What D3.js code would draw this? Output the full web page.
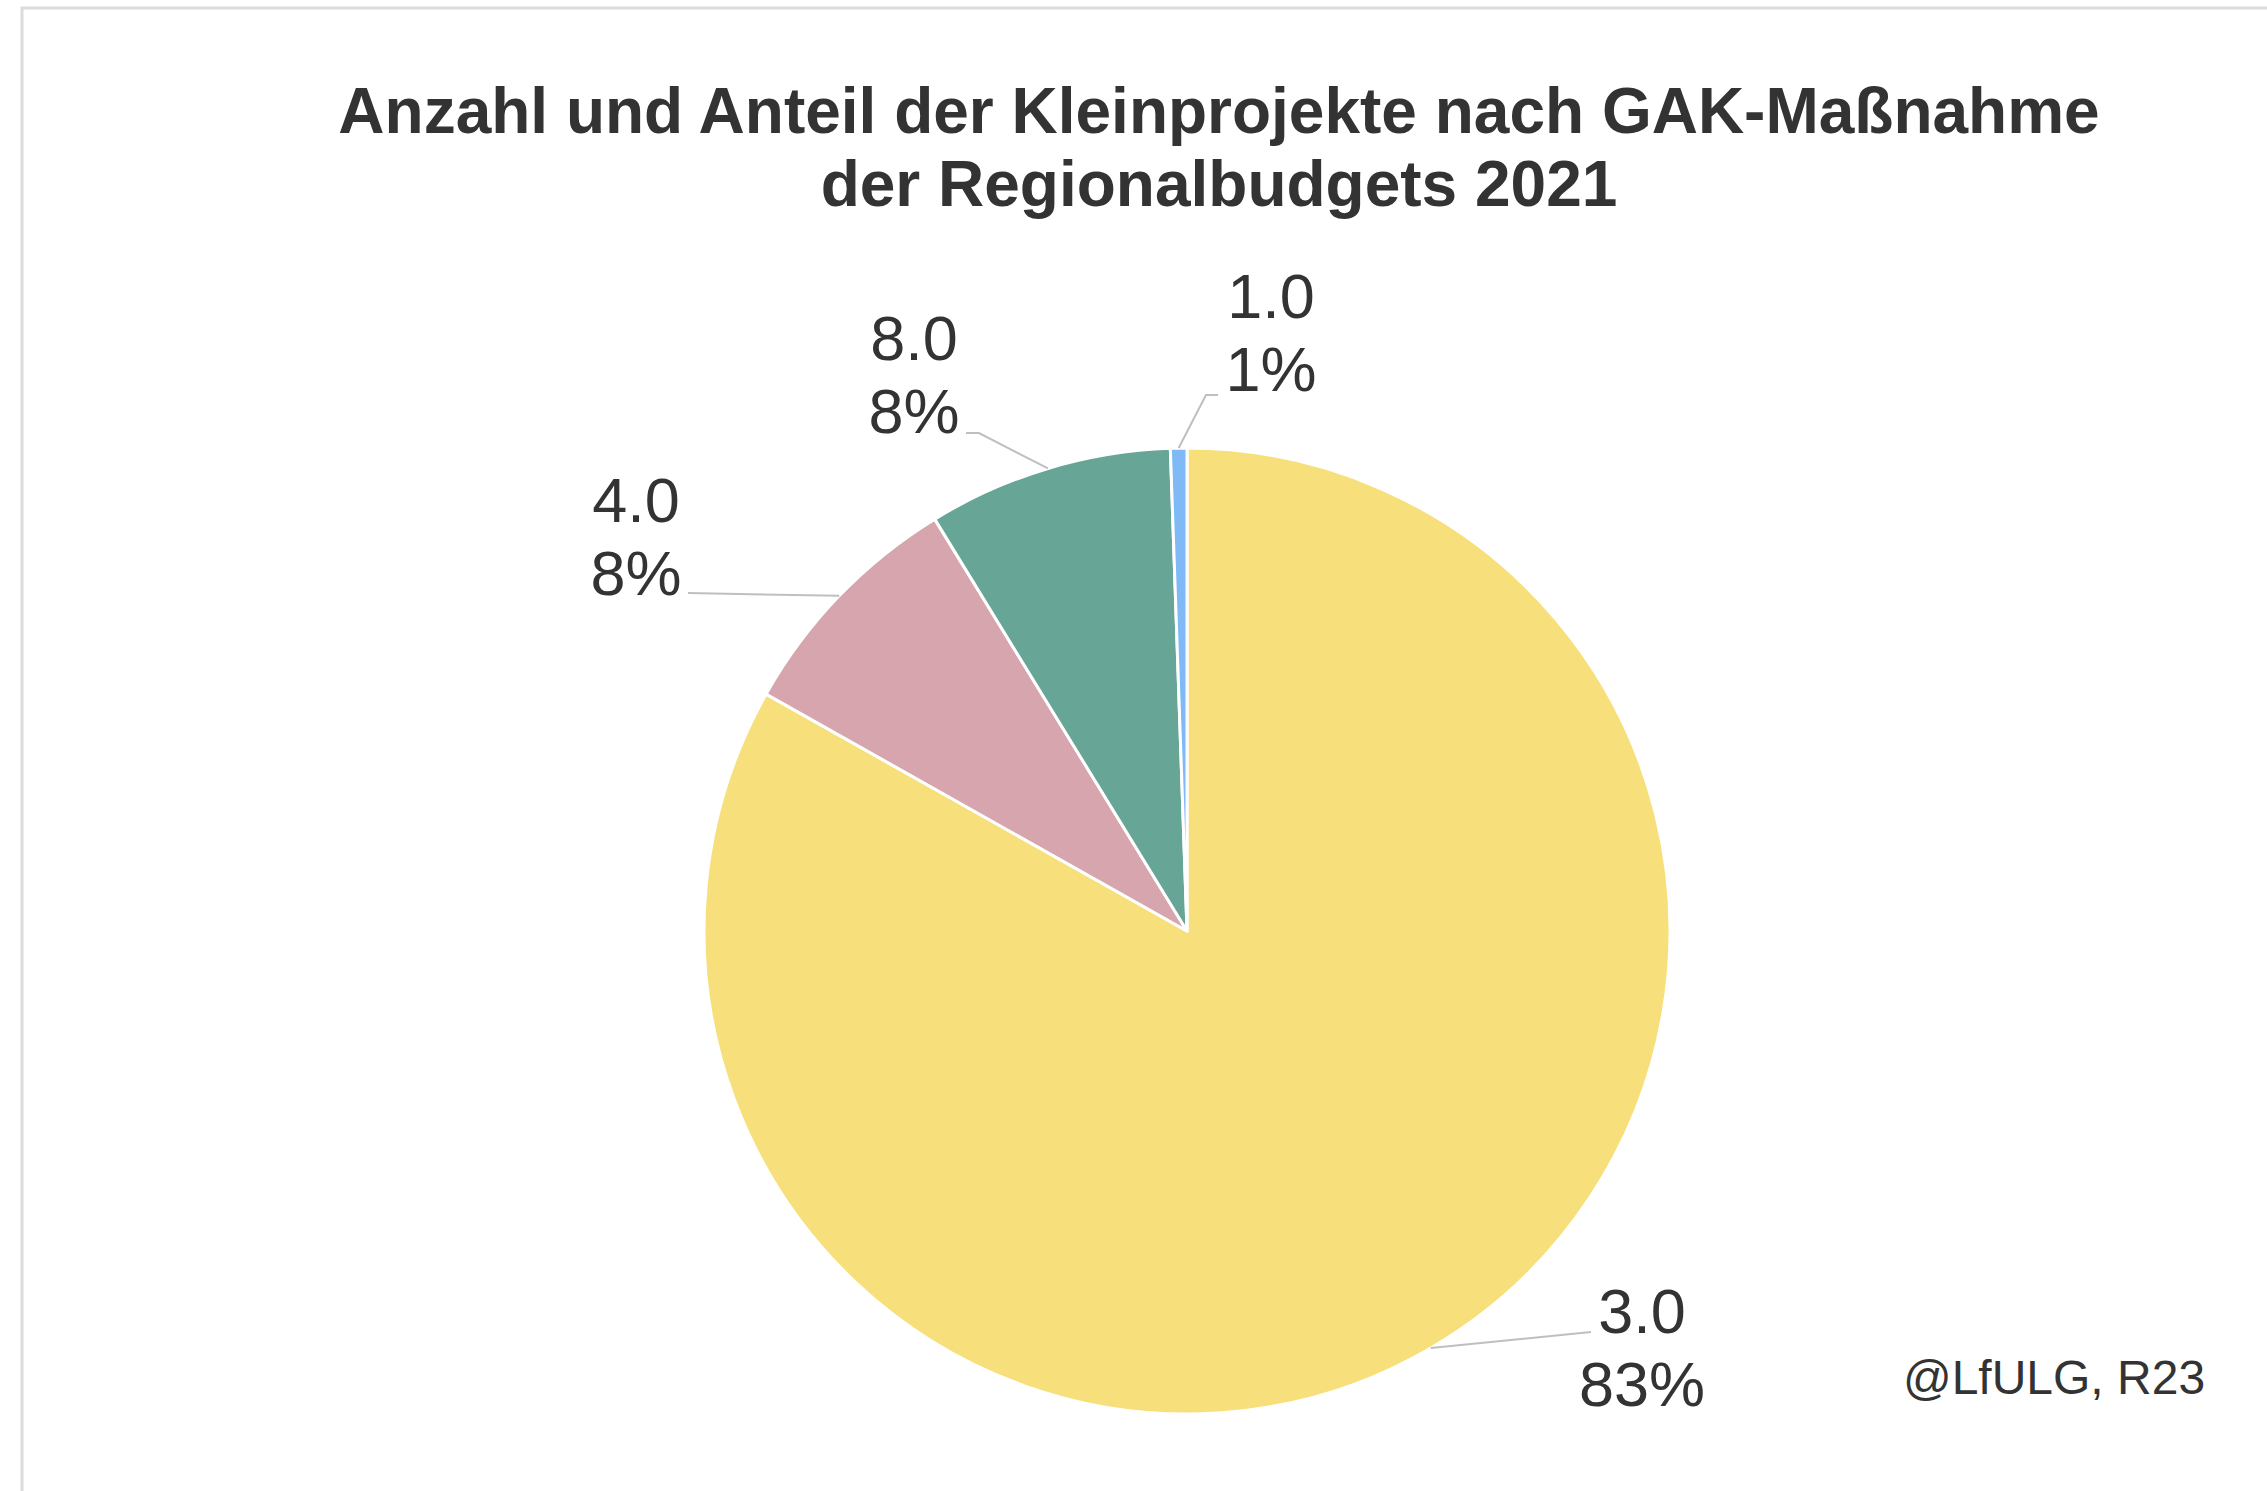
<!DOCTYPE html>
<html lang="de">
  <head>
    <meta charset="UTF-8" />
    <title>Kleinprojekte nach GAK-Maßnahme</title>
    <style>
      body { margin: 0; background: #fff; }
      text { font-family: "Liberation Sans", Arial, sans-serif; fill: #333; }
    </style>
  </head>
  <body>
    <svg id="svg" width="2267" height="1491"></svg>

    <script src="https://cdn.jsdelivr.net/npm/d3@7"></script>
    <script>
      const WIDTH = 2267;
      const HEIGHT = 1491;

      // data (share in percent, order clockwise from 12 o'clock)
      const CATEGORIES = ["3.0", "4.0", "8.0", "1.0"];
      const SHARES = [83.2, 8.1, 8.2, 0.55];
      const COLORS = ["#f7e07c", "#d6a5ad", "#67a597", "#7fbaf6"];
      const TITLE = [
        "Anzahl und Anteil der Kleinprojekte nach GAK-Maßnahme",
        "der Regionalbudgets 2021",
      ];
      const SOURCE = "@LfULG, R23";

      // label placement: text centre x, first baseline y, leader bend points
      const LABEL_POS = [
        { x: 1642, y: 1333, bends: [[1591, 1332]] },
        { x: 636, y: 522, bends: [[688, 593]] },
        { x: 914, y: 360, bends: [[979, 433], [966, 433]] },
        { x: 1271, y: 318, bends: [[1206, 395], [1218, 395]] },
      ];

      const CX = 1187;
      const CY = 931;
      const RADIUS = 483;

      const svg = d3.select("#svg");

      // chart frame
      svg
        .append("rect")
        .attr("x", 22)
        .attr("y", 8)
        .attr("width", WIDTH)
        .attr("height", HEIGHT)
        .attr("fill", "none")
        .attr("stroke", "#dcdcdc")
        .attr("stroke-width", 3);

      // title
      svg
        .append("text")
        .attr("text-anchor", "middle")
        .attr("font-size", 64)
        .attr("font-weight", "bold")
        .selectAll("tspan")
        .data(TITLE)
        .join("tspan")
        .attr("x", 1219)
        .attr("y", (d, i) => 133 + i * 73)
        .text((d) => d);

      const data = CATEGORIES.map((c, i) => ({ cat: c, value: SHARES[i], color: COLORS[i] }));
      const total = d3.sum(data, (d) => d.value);

      const pie = d3.pie().sort(null).value((d) => d.value);
      const arcs = pie(data);

      const arc = d3.arc().innerRadius(0).outerRadius(RADIUS);

      const g = svg.append("g").attr("transform", `translate(${CX}, ${CY})`);

      g.selectAll("path")
        .data(arcs)
        .join("path")
        .attr("d", arc)
        .attr("fill", (d) => d.data.color)
        .attr("stroke", "#fff")
        .attr("stroke-width", 3)
        .attr("stroke-linejoin", "round");

      // leader lines from the middle of each slice's outer edge
      const pct = d3.format(".0%");
      const line = d3.line();

      arcs.forEach((a, i) => {
        const mid = (a.startAngle + a.endAngle) / 2;
        const start = [CX + RADIUS * Math.sin(mid), CY - RADIUS * Math.cos(mid)];
        const pts = [start].concat(LABEL_POS[i].bends);
        svg
          .append("path")
          .attr("d", line(pts))
          .attr("fill", "none")
          .attr("stroke", "#bfbfbf")
          .attr("stroke-width", 2);

        const t = svg
          .append("text")
          .attr("text-anchor", "middle")
          .attr("font-size", 63);
        t.append("tspan")
          .attr("x", LABEL_POS[i].x)
          .attr("y", LABEL_POS[i].y)
          .text(a.data.cat);
        t.append("tspan")
          .attr("x", LABEL_POS[i].x)
          .attr("y", LABEL_POS[i].y + 73)
          .text(pct(a.data.value / total));
      });

      // source note
      svg
        .append("text")
        .attr("x", 2054)
        .attr("y", 1394)
        .attr("text-anchor", "middle")
        .attr("font-size", 48)
        .text(SOURCE);
    </script>
  </body>
</html>
